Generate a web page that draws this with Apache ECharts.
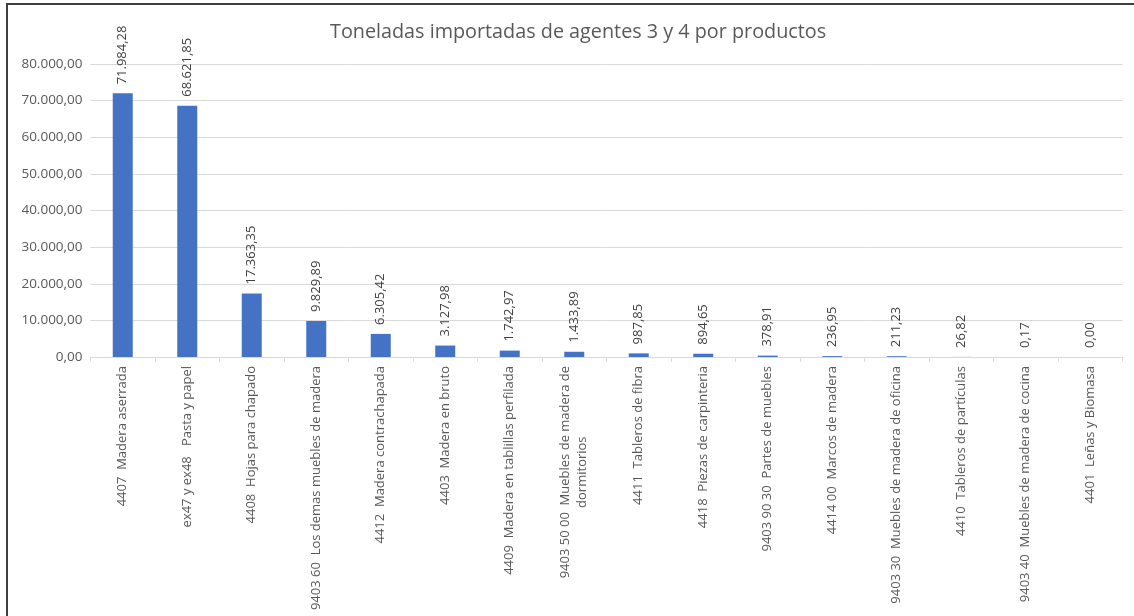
<!DOCTYPE html>
<html>
<head>
<meta charset="utf-8">
<script src="https://cdn.jsdelivr.net/npm/echarts@6/dist/echarts.min.js"></script>
<style>
  html, body { margin: 0; padding: 0; background: #ffffff; }
  #chart { width: 1134px; height: 616px; }
</style>
</head>
<body>
<div id="chart"></div>
<script>
const chartTitle = "Toneladas importadas de agentes 3 y 4 por productos";

const categories = [
  "4407  Madera aserrada",
  "ex47 y ex48   Pasta y papel",
  "4408  Hojas para chapado",
  "9403 60  Los demas muebles de madera",
  "4412  Madera contrachapada",
  "4403  Madera en bruto",
  "4409  Madera en tablillas perfilada",
  "9403 50 00  Muebles de madera de\ndormitorios",
  "4411  Tableros de fibra",
  "4418  Piezas de carpinteria",
  "9403 90 30  Partes de muebles",
  "4414 00  Marcos de madera",
  "9403 30  Muebles de madera de oficina",
  "4410  Tableros de partículas",
  "9403 40  Muebles de madera de cocina",
  "4401  Leñas y Biomasa"
];

const values = [
  71984.28, 68621.85, 17363.35, 9829.89, 6305.42, 3127.98, 1742.97, 1433.89,
  987.85, 894.65, 378.91, 236.95, 211.23, 26.82, 0.17, 0.00
];

const yTicks = [0, 10000, 20000, 30000, 40000, 50000, 60000, 70000, 80000];

function fmtEs(v) {
  const fixed = Math.abs(v).toFixed(2);
  let [intPart, dec] = fixed.split('.');
  intPart = intPart.replace(/\B(?=(\d{3})+(?!\d))/g, '.');
  return (v < 0 ? '-' : '') + intPart + ',' + dec;
}

const FONT = "'Open Sans', 'Noto Sans', sans-serif";

const chart = echarts.init(document.getElementById('chart'), null, { renderer: 'canvas' });

chart.setOption({
  backgroundColor: '#ffffff',
  animation: false,
  title: {
    text: chartTitle,
    left: 325,
    top: 17,
    textStyle: { fontFamily: FONT, fontSize: 19.8, fontWeight: 'normal', color: '#595959' }
  },
  graphic: [{
    type: 'polyline',
    shape: { points: [[7, 620], [7, 4], [1140, 4]] },
    style: { stroke: '#3f3f3f', lineWidth: 2, fill: null },
    silent: true
  }],
  grid: { left: 90.5, right: 11.5, top: 64, bottom: 259, containLabel: false },
  xAxis: {
    type: 'category',
    data: categories,
    axisLine: { show: true, lineStyle: { color: '#d9d9d9', width: 1 } },
    axisTick: { show: true, alignWithLabel: false, length: 5, lineStyle: { color: '#d9d9d9' } },
    axisLabel: {
      interval: 0,
      rotate: 90,
      margin: 9,
      fontFamily: FONT,
      fontSize: 13,
      color: '#595959',
      formatter: function (v) {
        return v.split('\n').map(function (l) { return '{c|' + l + '}'; }).join('\n');
      },
      rich: {
        c: { align: 'center', fontFamily: FONT, fontSize: 13, color: '#595959', lineHeight: 17 }
      }
    }
  },
  yAxis: {
    type: 'value',
    min: 0,
    max: 80000,
    interval: 10000,
    axisLine: { show: false },
    axisTick: { show: false },
    splitLine: { show: true, lineStyle: { color: '#d9d9d9', width: 1 } },
    axisLabel: {
      margin: 8,
      fontFamily: FONT,
      fontSize: 13.5,
      color: '#595959',
      formatter: function (v) { return fmtEs(v); }
    }
  },
  series: [{
    type: 'bar',
    data: values,
    barWidth: 20,
    itemStyle: { color: '#4472c4' },
    label: {
      show: true,
      position: 'top',
      rotate: 90,
      align: 'left',
      verticalAlign: 'middle',
      distance: 9,
      fontFamily: FONT,
      fontSize: 13,
      color: '#404040',
      formatter: function (p) { return fmtEs(p.value); }
    }
  }]
});
</script>
</body>
</html>
